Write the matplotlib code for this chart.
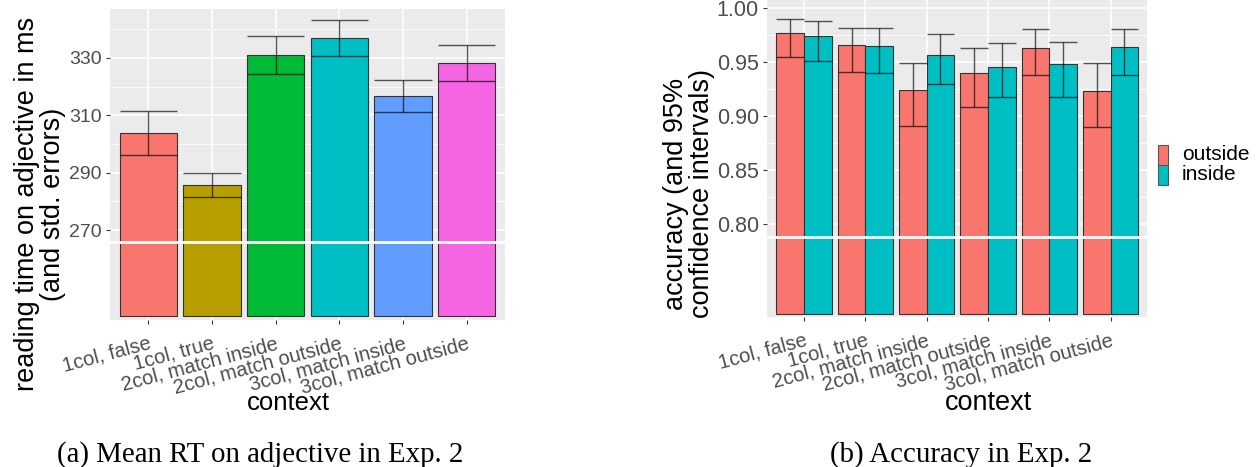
import matplotlib
matplotlib.use("Agg")
import matplotlib.pyplot as plt
from matplotlib.patches import Rectangle
import numpy as np

# ---- data -------------------------------------------------------------
contexts = ["1col, false", "1col, true", "2col, match inside",
            "2col, match outside", "3col, match inside", "3col, match outside"]

rt_mean = [303.9, 285.7, 330.85, 336.95, 316.8, 328.1]
rt_se = [7.6, 4.3, 6.65, 6.25, 5.5, 6.2]
rt_colors = ["#F8766D", "#B79F00", "#00BA38", "#00BFC4", "#619CFF", "#F564E3"]
rt_ticks = [270, 290, 310, 330]
rt_minor = [280, 300, 320, 340]

groups = ["outside", "inside"]
group_colors = ["#F8766D", "#00BFC4"]
acc_outside = [0.977, 0.966, 0.924, 0.940, 0.963, 0.923]
acc_outside_lo = [0.955, 0.941, 0.891, 0.909, 0.938, 0.890]
acc_outside_hi = [0.990, 0.982, 0.949, 0.963, 0.981, 0.949]
acc_inside = [0.974, 0.965, 0.957, 0.946, 0.948, 0.964]
acc_inside_lo = [0.951, 0.940, 0.930, 0.918, 0.918, 0.938]
acc_inside_hi = [0.988, 0.982, 0.976, 0.968, 0.969, 0.981]
acc_ticks = [0.80, 0.85, 0.90, 0.95, 1.00]
acc_minor = [0.825, 0.875, 0.925, 0.975]

# ---- figure -----------------------------------------------------------
W, H = 1257, 467
fig = plt.figure(figsize=(W / 100, H / 100), dpi=100)
SANS = ["Liberation Sans", "DejaVu Sans"]
SERIF = ["Liberation Serif", "DejaVu Serif"]
plt.rcParams["font.family"] = SANS


def fx(x):
    return x / W


def fy(y):
    return 1 - y / H


def axes_px(x0, y0, x1, y1):
    return fig.add_axes([fx(x0), fy(y1), fx(x1) - fx(x0), (y1 - y0) / H])


def style_panel(ax, ylim, ticks, minor, fmt, tick_fs):
    ax.set_facecolor("#EBEBEB")
    for s in ax.spines.values():
        s.set_visible(False)
    ax.set_ylim(*ylim)
    ax.set_xlim(0.4, 6.6)
    ax.set_yticks(ticks)
    ax.set_yticklabels([fmt(t) for t in ticks])
    for m in minor:
        ax.axhline(m, color="white", lw=0.6, zorder=0.5)
    for t in ticks:
        ax.axhline(t, color="white", lw=1.1, zorder=0.6)
    for i in range(1, 7):
        ax.axvline(i, color="white", lw=1.1, zorder=0.6)
    ax.tick_params(axis="both", colors="#333333", length=3, width=0.8,
                   labelcolor="#4D4D4D")
    ax.tick_params(axis="y", labelsize=tick_fs, pad=3)
    ax.set_xticks(range(1, 7))
    ax.set_xticklabels(contexts, rotation=15, ha="right", va="top",
                       rotation_mode="anchor", fontsize=14.5)
    ax.tick_params(axis="x", pad=7)


# ---- left panel: reading times -----------------------------------------
ax1 = axes_px(110, 9.3, 505, 320)
style_panel(ax1, (238.7, 346.9), rt_ticks, rt_minor, lambda v: f"{v:d}", 14)
x = np.arange(1, 7)
base = 240
ax1.bar(x, np.array(rt_mean) - base, bottom=base, width=0.9, color=rt_colors,
        edgecolor="#333333", linewidth=0.8, zorder=2)
lo = np.array(rt_mean) - np.array(rt_se)
hi = np.array(rt_mean) + np.array(rt_se)
ax1.vlines(x, lo, hi, color="black", alpha=0.65, lw=1.0, zorder=3)
ax1.hlines(lo, x - 0.45, x + 0.45, color="black", alpha=0.65, lw=1.0, zorder=3)
ax1.hlines(hi, x - 0.45, x + 0.45, color="black", alpha=0.65, lw=1.0, zorder=3)
ax1.axhline(265.9, color="white", lw=2.0, zorder=4)

# ---- right panel: accuracy ----------------------------------------------
ax2 = axes_px(767.3, 0, 1147.3, 317)
style_panel(ax2, (0.7142, 1.0077), acc_ticks, acc_minor, lambda v: f"{v:.2f}", 15.5)
base2 = 0.717
series = [(acc_outside, acc_outside_lo, acc_outside_hi),
          (acc_inside, acc_inside_lo, acc_inside_hi)]
for k, (m, l, h) in enumerate(series):
    xs = x + (k - 0.5) * 0.45
    ax2.bar(xs, np.array(m) - base2, bottom=base2, width=0.45,
            color=group_colors[k], edgecolor="#333333", linewidth=0.8, zorder=2)
    ax2.vlines(xs, l, h, color="black", alpha=0.65, lw=1.0, zorder=3)
    ax2.hlines(l, xs - 0.225, xs + 0.225, color="black", alpha=0.65, lw=1.0, zorder=3)
    ax2.hlines(h, xs - 0.225, xs + 0.225, color="black", alpha=0.65, lw=1.0, zorder=3)
ax2.axhline(0.7885, color="white", lw=2.0, zorder=4)

# legend
for k, (g, c) in enumerate(zip(groups, group_colors)):
    y0 = 144.7 + 20 * k
    fig.add_artist(Rectangle((fx(1157.7), fy(y0 + 20)), 10 / W, 20 / H,
                             transform=fig.transFigure, facecolor=c,
                             edgecolor="#555555", linewidth=0.8))
    fig.text(fx(1181.7), fy(y0 + 10), g, fontsize=15, va="center", ha="left",
             color="black")

# axis titles
fig.text(fx(40), fy(204), "reading time on adjective in ms\n(and std. errors)",
         rotation=90, ha="center", va="center", fontsize=19.5, linespacing=1.0)
fig.text(fx(689), fy(194), "accuracy (and 95%\nconfidence intervals)",
         rotation=90, ha="center", va="center", fontsize=19.5, linespacing=1.0)
fig.text(fx(288.5), fy(410), "context", ha="center", va="baseline", fontsize=18.5)
fig.text(fx(988), fy(410.5), "context", ha="center", va="baseline", fontsize=19.5)

# captions
fig.text(fx(260), fy(461.5), "(a) Mean RT on adjective in Exp. 2",
         ha="center", va="baseline", fontsize=20.8, family=SERIF)
fig.text(fx(961), fy(461.5), "(b) Accuracy in Exp. 2",
         ha="center", va="baseline", fontsize=20.8, family=SERIF)

fig.savefig("out.png", dpi=100)
